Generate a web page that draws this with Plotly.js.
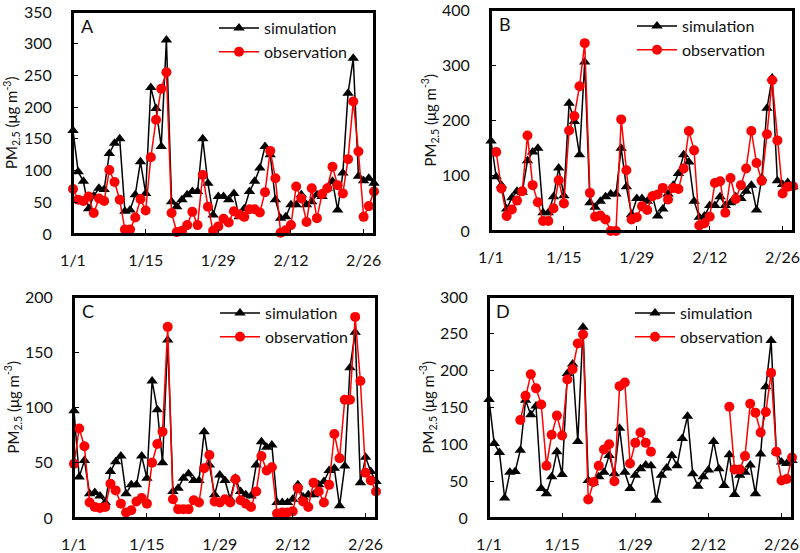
<!DOCTYPE html>
<html>
<head>
<meta charset="utf-8">
<script src="https://cdn.plot.ly/plotly-3.0.1.min.js"></script>
<style>
  html, body { margin: 0; padding: 0; background: #fff; }
  #chart { width: 800px; height: 553px; }
</style>
</head>
<body>
<div id="chart"></div>
<script>
// PM2.5 daily series, 1/1 .. 2/28 (59 days), four sites A–D
const TICK_VALS = [0, 14, 28, 42, 56];
const TICK_TEXT = ['1/1', '1/15', '1/29', '2/12', '2/26'];

const simA = [163, 98, 83, 40, 60, 72, 70, 127, 143, 150, 36, 38, 62, 114, 64, 231, 198, 138, 306, 51, 43, 54, 62, 67, 67, 150, 80, 30, 59, 59,
  54, 64, 27, 40, 67, 83, 104, 138, 125, 54, 25, 27, 46, 46, 62, 46, 51, 62, 59, 72, 83, 38, 96, 222, 277, 91, 84, 88, 80];
const obsA = [71, 54, 52, 59, 33, 56, 52, 101, 82, 54, 7, 7, 26, 55, 37, 121, 180, 229, 255, 33, 3, 5, 14, 35, 14, 93, 43, 5, 12, 24,
  18, 36, 31, 27, 39, 39, 34, 66, 131, 88, 2, 6, 14, 75, 56, 19, 72, 25, 63, 72, 106, 77, 64, 118, 209, 130, 27, 44, 67];

const simB = [163, 98, 83, 40, 60, 72, 70, 127, 143, 150, 33, 33, 62, 114, 64, 231, 198, 138, 306, 51, 43, 54, 62, 67, 67, 150, 80, 30, 59, 59,
  54, 64, 27, 40, 67, 83, 104, 138, 125, 54, 25, 27, 46, 46, 62, 46, 51, 62, 59, 72, 83, 38, 96, 222, 277, 91, 84, 88, 80];
const obsB = [null, 143, 77, 27, 39, 55, 72, 173, 83, 52, 18, 18, 41, 92, 50, 182, 208, 262, 340, 69, 26, 28, 21, 0, 0, 202, 110, 21, 25, 45,
  38, 63, 66, 78, 57, 78, 76, 113, 181, 146, 10, 14, 26, 87, 90, 33, 96, 58, 83, 113, 181, 123, 91, 175, 273, 164, 68, 80, 81];

const simC = [97, 37, 52, 22, 23, 20, 14, 42, 51, 56, 22, 30, 30, 56, 36, 124, 98, 50, 161, 24, 27, 36, 40, 34, 34, 78, 48, 21, 39, 34,
  17, 36, 24, 21, 20, 48, 69, 64, 66, 14, 14, 14, 17, 30, 19, 21, 21, 30, 33, 43, 45, 11, 47, 136, 168, 32, 55, 42, 33];
const obsC = [49, 81, 65, 14, 10, 9, 10, 31, 25, 13, 5, 7, 15, 18, 13, 50, 67, 78, 173, 17, 8, 8, 8, 16, 14, 45, 57, 15, 14, 17,
  14, 35, 16, 13, 10, 24, 56, 43, 46, 4, 5, 5, 6, 27, 15, 10, 32, 24, 14, 30, 76, 54, 107, 107, 182, 124, 41, 34, 24];

const simD = [161, 101, 89, 27, 62, 63, 92, 160, 140, 152, 40, 33, 56, 90, 59, 196, 209, 104, 259, 51, 48, 56, 62, 85, 60, 122, 62, 40, 58, 67,
  72, 71, 24, 58, 68, 85, 71, 108, 138, 60, 43, 56, 65, 104, 67, 44, 86, 32, 58, 62, 72, 33, 87, 178, 241, 90, 76, 74, 78];
const obsD = [null, null, null, null, null, null, 133, 166, 195, 176, 154, 71, 113, 139, 112, 188, 202, 237, 249, 25, 49, 71, 93, 100, 50, 179, 184, 74, 102, 116,
  102, 90, null, null, null, null, null, null, null, null, null, null, null, null, null, null, 151, 66, 66, 84, 155, 143, 116, 144, 197, 90, 51, 53, 82];

const DAYS = simA.map((_, i) => i);   // day index from 1/1

const FONT = 'Lato, "Open Sans", sans-serif';
const W = 800, H = 553;
// panel boxes in page pixels: [left, right, top, bottom]
const PANELS = [
  { id: '',  label: 'A', sim: simA, obs: obsA, yMax: 350, dtick: 50,  box: [73, 374, 12, 234],  titleX: 12 },
  { id: '2', label: 'B', sim: simB, obs: obsB, yMax: 400, dtick: 100, box: [491, 793, 10, 231], titleX: 430 },
  { id: '3', label: 'C', sim: simC, obs: obsC, yMax: 200, dtick: 50,  box: [74, 376, 297, 518], titleX: 13 },
  { id: '4', label: 'D', sim: simD, obs: obsD, yMax: 300, dtick: 50,  box: [489, 792, 297, 518], titleX: 428 },
];

const px = (x) => x / W, py = (y) => (H - y) / H;

function axisBase() {
  return {
    showline: true, mirror: true, linecolor: 'black', linewidth: 2,
    ticks: 'inside', ticklen: 5, tickwidth: 1, tickcolor: 'black',
    showgrid: false, zeroline: false, fixedrange: true, ticklabeloverflow: 'allow',
    tickfont: { family: FONT, size: 16, color: '#111' },
  };
}

const traces = [], layout = {
  width: W, height: H, margin: { l: 0, r: 0, t: 0, b: 0 },
  paper_bgcolor: '#fff', plot_bgcolor: '#fff', font: { family: FONT, color: '#111' },
  annotations: [], shapes: [],
};

PANELS.forEach((p) => {
  const [l, r, t, b] = p.box, leg = 'legend' + p.id;
  const xa = 'x' + p.id, ya = 'y' + p.id;
  traces.push({
    x: DAYS, y: p.sim, xaxis: xa, yaxis: ya, legend: leg, name: 'simulation', mode: 'lines+markers',
    line: { color: '#000', width: 1.5 }, marker: { symbol: 'triangle-up', size: 10, color: '#000' }, cliponaxis: false,
  });
  traces.push({
    x: DAYS, y: p.obs, xaxis: xa, yaxis: ya, legend: leg, name: 'observation', mode: 'lines+markers',
    line: { color: '#ff0000', width: 1.5 }, marker: { symbol: 'circle', size: 10, color: '#ff0000' }, cliponaxis: false,
  });
  layout['xaxis' + p.id] = Object.assign(axisBase(), {
    domain: [px(l), px(r)], anchor: ya, range: [0, 58],
    tickvals: TICK_VALS, ticktext: TICK_TEXT, ticklabelstandoff: 11,
  });
  layout['yaxis' + p.id] = Object.assign(axisBase(), {
    domain: [py(b), py(t)], anchor: xa, range: [0, p.yMax], dtick: p.dtick, ticklabelstandoff: 16,
  });
  // plot frame (drawn over the data so the box stays closed)
  layout.shapes.push({
    type: 'rect', xref: 'paper', yref: 'paper', x0: px(l), x1: px(r), y0: py(b), y1: py(t),
    line: { color: 'black', width: 2 }, layer: 'above',
  });
  layout[leg] = {
    x: px(l + 141), y: py(t - 1), xanchor: 'left', yanchor: 'top', xref: 'paper', yref: 'paper',
    bgcolor: 'rgba(0,0,0,0)', itemwidth: 40, tracegroupgap: 0,
    font: { family: FONT, size: 16, color: '#111' },
  };
  layout.annotations.push({
    xref: 'paper', yref: 'paper', x: px(l + 14), y: py(t + 14), xanchor: 'center', yanchor: 'middle',
    text: p.label, showarrow: false, font: { family: FONT, size: 18, color: '#111' },
  });
  layout.annotations.push({
    xref: 'paper', yref: 'paper', x: px(p.titleX), y: py((t + b) / 2), xanchor: 'center', yanchor: 'middle',
    textangle: -90, text: 'PM<sub>2.5</sub> (μg m<sup>-3</sup>)', showarrow: false,
    font: { family: FONT, size: 15, color: '#111' },
  });
});

Plotly.newPlot('chart', traces, layout, { staticPlot: true });
</script>
</body>
</html>
